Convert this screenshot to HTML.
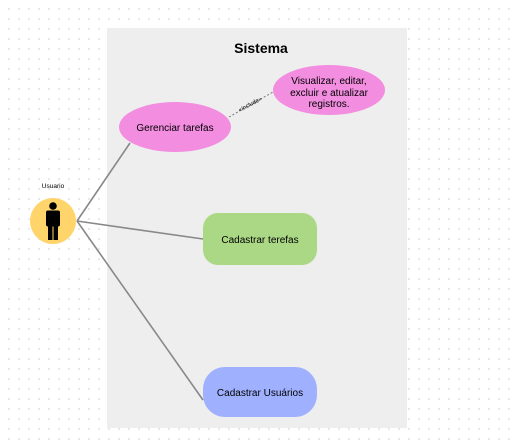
<!DOCTYPE html>
<html><head><style>
body{margin:0;width:514px;height:444px;overflow:hidden;background:#fff;
background-image:radial-gradient(#e2e2e2 0.8px,transparent 1px);background-size:10px 10px;background-position:4px 4px;}
svg{position:absolute;left:0;top:0}
text{font-family:"Liberation Sans",sans-serif;fill:#000}
</style></head><body>
<svg width="514" height="444" viewBox="0 0 514 444">
<rect x="107" y="28" width="300" height="400" fill="#eeeeee"/>
<text x="261" y="53" font-size="14" font-weight="bold" text-anchor="middle">Sistema</text>
<g stroke="#888" stroke-width="1.6">
<line x1="77" y1="221" x2="130" y2="143"/>
<line x1="77" y1="221" x2="203" y2="239"/>
<line x1="77" y1="221" x2="203" y2="400"/>
</g>
<line x1="229" y1="117" x2="273" y2="92" stroke="#777" stroke-dasharray="2,2"/>
<text x="251" y="106" font-size="6" text-anchor="middle" transform="rotate(-28 251 106)">«include»</text>
<ellipse cx="175" cy="127" rx="56" ry="25" fill="#f28de0"/>
<text x="175" y="131" font-size="10" text-anchor="middle">Gerenciar tarefas</text>
<ellipse cx="329" cy="90" rx="56" ry="25" fill="#f28de0"/>
<text x="329" y="84" font-size="10" text-anchor="middle">Visualizar, editar,</text>
<text x="329" y="96" font-size="10" text-anchor="middle">excluir e atualizar</text>
<text x="329" y="107" font-size="10" text-anchor="middle">registros.</text>
<rect x="203" y="213" width="114" height="52" rx="15" fill="#abd885"/>
<text x="260" y="243" font-size="10" text-anchor="middle">Cadastrar terefas</text>
<rect x="203" y="367" width="114" height="50" rx="22" fill="#9fb0ff"/>
<text x="260" y="396" font-size="10" text-anchor="middle">Cadastrar Usuários</text>
<circle cx="53" cy="221" r="23" fill="#ffd56b"/>
<text x="53" y="188" font-size="6.5" text-anchor="middle">Usuario</text>
<g fill="#000">
<circle cx="53" cy="206" r="3.8"/>
<rect x="46" y="210.5" width="14" height="16" rx="2"/>
<rect x="48" y="225" width="4.5" height="15"/>
<rect x="53.5" y="225" width="4.5" height="15"/>
</g>
</svg>
</body></html>
